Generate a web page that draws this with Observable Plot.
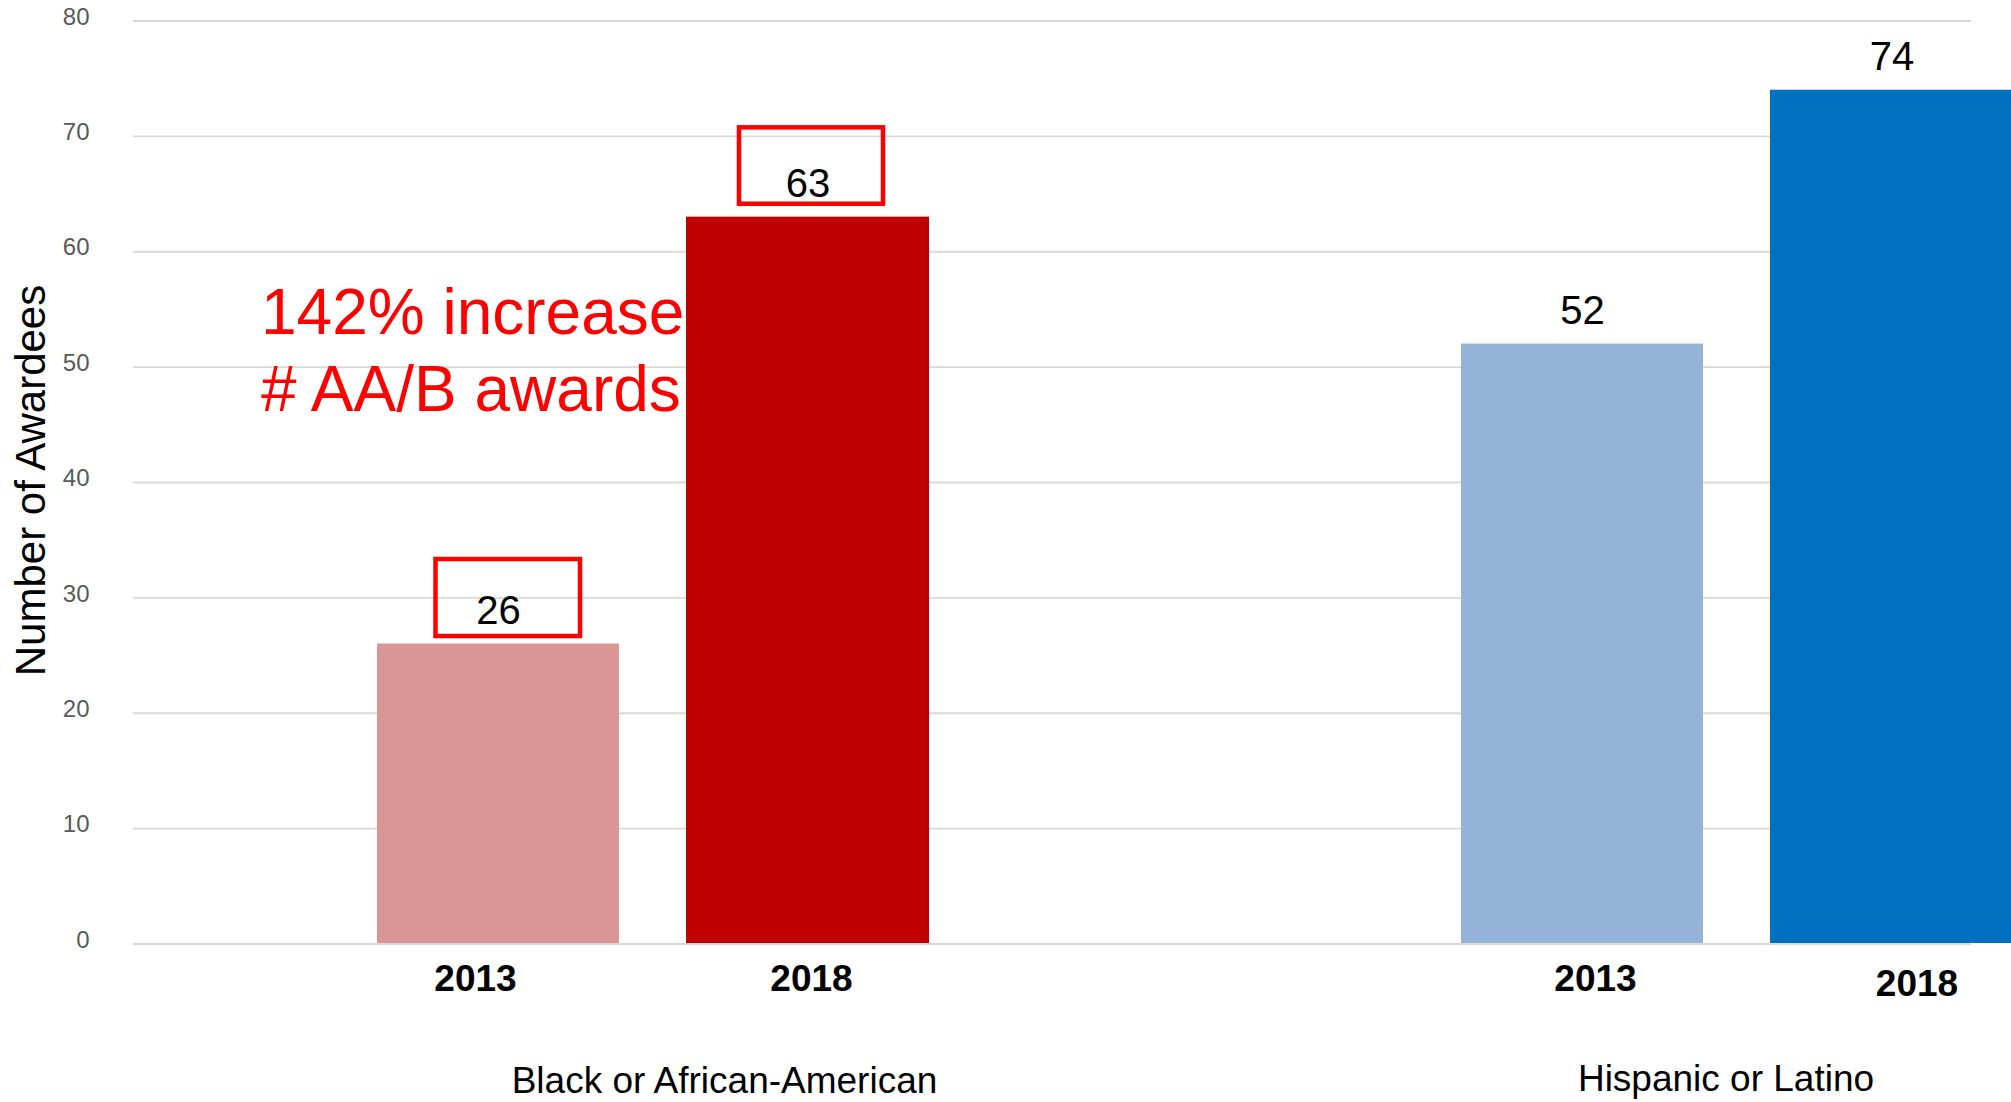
<!DOCTYPE html>
<html>
<head>
<meta charset="utf-8">
<script src="https://cdn.jsdelivr.net/npm/d3@7"></script>
<script src="https://cdn.jsdelivr.net/npm/@observablehq/plot@0.6"></script>
<style>
  html, body { margin: 0; padding: 0; background: #ffffff; }
  #chart svg { display: block; }
</style>
</head>
<body>
<div id="chart"></div>
<script>
// ---- data ----
const groups = ["Black or African-American", "Hispanic or Latino"];
const years = ["2013", "2018"];
const blackValues = [26, 63];
const hispanicValues = [52, 74];
const yTicks = [0, 10, 20, 30, 40, 50, 60, 70, 80];
const yTitle = "Number of Awardees";
const barColors = {
  "Black or African-American": ["#DA9694", "#C00000"],
  "Hispanic or Latino": ["#95B3D7", "#0070C0"]
};

const rows = [];
[blackValues, hispanicValues].forEach((vals, gi) =>
  vals.forEach((v, yi) => rows.push({group: groups[gi], year: years[yi], value: v, color: barColors[groups[gi]][yi]}))
);
const pct = Math.round((blackValues[1] - blackValues[0]) / blackValues[0] * 100);
const annotation = `${pct}% increase\n# AA/B awards`;

// ---- layout / styles ----
const font = "'Liberation Sans', Arial, Helvetica, sans-serif";
const barLayout = {
  "2013": {insetLeft: 0, insetRight: 310, dx: -155},
  "2018": {insetLeft: 309, insetRight: 0, dx: 154.5}
};
const boxLayout = {
  "2013": {insetLeft: 58.5, insetRight: 349, insetTop: -84.5, insetBottom: 7.5},
  "2018": {insetLeft: 362, insetRight: 46, insetTop: -89.3, insetBottom: 12.9}
};
const yearLabelLayout = {
  "Black or African-American|2013": {dx: -178, dy: 46.5},
  "Black or African-American|2018": {dx: 158, dy: 46.5},
  "Hispanic or Latino|2013": {dx: -142, dy: 46.5},
  "Hispanic or Latino|2018": {dx: 179.5, dy: 51.5}
};
const groupLabelLayout = {
  "Black or African-American": {dx: 71, dy: 148.5},
  "Hispanic or Latino": {dx: -11.5, dy: 146.5}
};

const marks = [
  Plot.ruleY(yTicks, {stroke: "#d9d9d9", strokeWidth: 1.8}),
  Plot.text(yTicks, {y: d => d, text: d => String(d), frameAnchor: "left", textAnchor: "end",
    dx: -44, dy: -4, fill: "#595959", fontSize: 24}),
  Plot.text([yTitle], {frameAnchor: "left", textAnchor: "middle", rotate: -90, dx: -101.5, dy: -2,
    fontSize: 42, fill: "#000"})
];

years.forEach(yr => {
  const data = rows.filter(d => d.year === yr);
  const L = barLayout[yr];
  marks.push(
    Plot.barY(data, {x: "group", y: "value", fill: "color",
      insetLeft: L.insetLeft, insetRight: L.insetRight, insetBottom: 0.5}),
    Plot.text(data, {x: "group", y: "value", text: d => String(d.value), dx: L.dx, dy: -20,
      lineAnchor: "bottom", fontSize: 40, fill: "#000"})
  );
  const B = boxLayout[yr];
  marks.push(
    Plot.barY(data.filter(d => d.group === groups[0]), {x: "group", y1: "value", y2: "value",
      fill: "none", stroke: "#FF0000", strokeWidth: 4.5, ...B})
  );
});

rows.forEach(r => {
  const L = yearLabelLayout[r.group + "|" + r.year];
  marks.push(Plot.text([r], {x: "group", text: "year", frameAnchor: "bottom", lineAnchor: "bottom",
    dx: L.dx, dy: L.dy, fontSize: 37, fontWeight: "bold", fill: "#000"}));
});

groups.forEach(g => {
  const L = groupLabelLayout[g];
  marks.push(Plot.text([g], {x: d => d, text: d => d, frameAnchor: "bottom", lineAnchor: "bottom",
    dx: L.dx, dy: L.dy, fontSize: 37, fill: "#000"}));
});

marks.push(Plot.text([annotation], {frameAnchor: "top-left", textAnchor: "start", lineAnchor: "top",
  lineHeight: 1.214, dx: 127.5, dy: 257.6, fontSize: 64, fill: "#FF0000"}));

const chart = Plot.plot({
  width: 2011,
  height: 1102,
  marginLeft: 133,
  marginRight: 40,
  marginTop: 20.5,
  marginBottom: 158.5,
  style: {fontFamily: font, background: "#ffffff", overflow: "visible"},
  x: {type: "band", domain: groups, range: [377, 2013], paddingInner: 0.49077, paddingOuter: 0, round: false, axis: null},
  y: {domain: [0, 80], axis: null},
  color: {type: "identity"},
  marks
});
document.getElementById("chart").appendChild(chart);
</script>
</body>
</html>
